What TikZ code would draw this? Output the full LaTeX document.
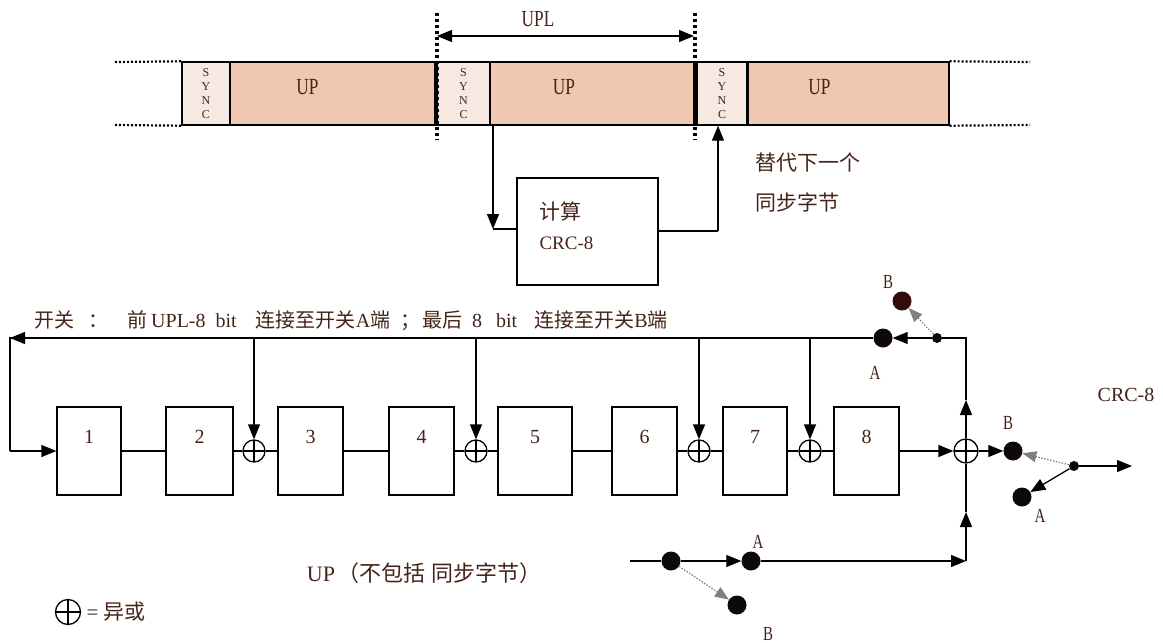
\documentclass[tikz,border=0pt]{standalone}
\usepackage{fontspec}
\setmainfont{Liberation Serif}
\newfontfamily\narrow[FakeStretch=0.75]{Liberation Serif}
\newfontfamily\cjk{Noto Sans CJK SC}
\usetikzlibrary{arrows.meta}
\definecolor{upfill}{RGB}{240,200,176}
\definecolor{syncfill}{RGB}{246,233,225}
\definecolor{txt}{RGB}{70,35,25}
\definecolor{dotc}{RGB}{15,8,8}
\definecolor{dotr}{RGB}{50,12,12}
\tikzset{
  line/.style={draw=black, line width=1.3pt},
  upbox/.style={draw, line width=1.4pt, fill=upfill, minimum width=#1, minimum height=63pt, inner sep=0pt},
  syncbox/.style={draw, line width=1.4pt, fill=syncfill, minimum width=#1, minimum height=63pt, inner sep=0pt, font=\fontsize{12}{14}\selectfont, align=center, text=txt},
  uptext/.style={font=\narrow\fontsize{23}{23}\selectfont, text=txt},
  reg/.style={draw, line width=1.3pt, minimum width=#1, minimum height=88pt, inner sep=0pt},
  xor/.style={circle, draw, line width=1.3pt, minimum size=#1, inner sep=0pt,
    path picture={\draw[line width=1.3pt] (path picture bounding box.north) -- (path picture bounding box.south) (path picture bounding box.west) -- (path picture bounding box.east);}},
  bigdot/.style={circle, fill=dotc, minimum size=19pt, inner sep=0pt},
  smalldot/.style={circle, fill=dotc, minimum size=10pt, inner sep=0pt},
  lbl/.style={font=\fontsize{19}{19}\selectfont, text=txt},
  ablbl/.style={font=\narrow\fontsize{20}{20}\selectfont, text=txt},
  cjklbl/.style={font=\cjk\fontsize{20}{20}\selectfont, text=txt},
  cjkbig/.style={font=\cjk\fontsize{21}{21}\selectfont, text=txt},
  arr/.style={line width=1.3pt, -{Triangle[length=15pt,width=12pt]}},
  darr/.style={draw=gray, line width=1.2pt, dash pattern=on 1.5pt off 1.5pt, -{Triangle[length=14pt,width=11pt]}},
  vdot/.style={line width=3.5pt, dash pattern=on 3pt off 3pt},
  hdot/.style={line width=2.2pt, dash pattern=on 2pt off 2pt},
}
\begin{document}
\begin{tikzpicture}[x=1pt,y=-1pt]
\useasboundingbox (0,0) rectangle (1163,643);

% ---- top frame strip ----
\node[syncbox=48pt] (s1) at (206,93.5) {S\\Y\\N\\C};
\node[upbox=205pt] (u1) at (332.5,93.5) {};
\node[syncbox=53pt] (s2) at (463.5,93.5) {S\\Y\\N\\C};
\node[upbox=204pt] (u2) at (592,93.5) {};
\node[syncbox=50pt] (s3) at (722,93.5) {S\\Y\\N\\C};
\node[upbox=201pt] (u3) at (848.5,93.5) {};
\node[uptext] (t1) at ([xshift=-25pt,yshift=6pt]u1.center) {UP};
\node[uptext] (t2) at ([xshift=-28pt,yshift=6pt]u2.center) {UP};
\node[uptext] (t3) at ([xshift=-29pt,yshift=6pt]u3.center) {UP};

\draw[line width=3.5pt] (s2.north west) -- (s2.south west);
\draw[line width=3.5pt] (s3.north west) -- (s3.south west);
\coordinate (va1) at (437,13); \coordinate (vb1) at (437,140);
\coordinate (va2) at (695,13); \coordinate (vb2) at (695,140);
\draw[vdot] (va1) -- (vb1);
\draw[vdot] (va2) -- (vb2);

\coordinate (dl1) at (115,62); \coordinate (dl2) at (115,125);
\coordinate (dr1) at (1030,62); \coordinate (dr2) at (1030,125);
\draw[hdot] (dl1) -- (s1.north west);
\draw[hdot] (dl2) -- (s1.south west);
\draw[hdot] (u3.north east) -- (dr1);
\draw[hdot] (u3.south east) -- (dr2);

% UPL
\coordinate (ua) at (437,36); \coordinate (ub) at (694,36);
\draw[line width=1.3pt, {Triangle[length=15pt,width=12pt]}-{Triangle[length=15pt,width=12pt]}] (ua) -- (ub);
\node[ablbl, font=\narrow\fontsize{23}{23}\selectfont] (upl) at (538,19) {UPL};

% CRC box
\node[draw, line width=1.4pt, minimum width=141pt, minimum height=107pt] (crc) at (587.5,231.5) {};
\node[cjkbig, anchor=west] (c1) at (536,211) {计算};
\node[lbl, anchor=west] (c2) at (536,243) {CRC-8};
\coordinate (dtop) at (493,125); \coordinate (dn) at (493,229);
\draw[arr] (dtop) -- (dn);
\draw[line] (dn) -- (crc.west |- dn);
\coordinate (upc) at (718,231);
\draw[line] (crc.east |- upc) -- (upc);
\draw[arr] (upc) -- (upc |- s3.south);
\node[cjkbig, anchor=west] (rep1) at (752,163) {替代下一个};
\node[cjkbig, anchor=west] (rep2) at (752,202) {同步字节};

% ---- CRC register ----
\node[cjklbl, anchor=west, inner sep=0pt] (cap) at (34,321) {开关\hspace{14pt}：\hspace{19pt}前\hspace{4pt}{\rmfamily UPL-8\hspace{10pt}bit}\hspace{19pt}连接至开关{\rmfamily A}端\hspace{10pt}；\hspace{2pt}最后\hspace{10pt}{\rmfamily 8\hspace{14pt}bit}\hspace{17pt}连接至开关{\rmfamily B}端};

\node[reg=64pt] (r1) at (89,451) {};
\node[reg=67pt] (r2) at (199.5,451) {};
\node[xor=22pt] (x1) at (254,451) {};
\node[reg=65pt] (r3) at (310.5,451) {};
\node[reg=65pt] (r4) at (421.5,451) {};
\node[xor=22pt] (x2) at (476,451) {};
\node[reg=74pt] (r5) at (535,451) {};
\node[reg=65pt] (r6) at (644.5,451) {};
\node[xor=22pt] (x3) at (699,451) {};
\node[reg=64pt] (r7) at (755,451) {};
\node[xor=22pt] (x4) at (810,451) {};
\node[reg=65pt] (r8) at (866.5,451) {};
\node[xor=24pt] (x5) at (966,451) {};

\foreach \i in {1,...,8} {\node[lbl, font=\fontsize{20}{20}\selectfont] (n\i) at ([yshift=14pt]r\i.center) {\i};}

\draw[line] (r1.east) -- (r2.west);
\draw[line] (r2.east) -- (x1.west);
\draw[line] (x1.east) -- (r3.west);
\draw[line] (r3.east) -- (r4.west);
\draw[line] (r4.east) -- (x2.west);
\draw[line] (x2.east) -- (r5.west);
\draw[line] (r5.east) -- (r6.west);
\draw[line] (r6.east) -- (x3.west);
\draw[line] (x3.east) -- (r7.west);
\draw[line] (r7.east) -- (x4.west);
\draw[line] (x4.east) -- (r8.west);
\draw[arr] (r8.east) -- (x5.west);

% top switch and feedback
\node[bigdot] (tA) at (883,338) {};
\node[bigdot, fill=dotr] (tB) at (902,301) {};
\node[smalldot] (tP) at (937,338) {};
\node[ablbl] (tAl) at (875,373) {A};
\node[ablbl] (tBl) at (888,282) {B};
\coordinate (tUp) at (966,400);
\coordinate (tR) at (966,338);
\draw[arr] (x5.north) -- (tUp);
\draw[line] (tUp) -- (tR) -- (tP.east);
\draw[arr] (tP) -- (tA);
\draw[darr] (tP) -- (tB);

\coordinate (fbL) at (10,338);
\coordinate (fbB) at (10,451);
\draw[line] (tA.west) -- (fbL) -- (fbB);
\draw[arr] (tA.west) -- (fbL);
\draw[arr] (fbB) -- (r1.west);

\draw[arr] (x1.north |- tA) -- (x1.north);
\draw[arr] (x2.north |- tA) -- (x2.north);
\draw[arr] (x3.north |- tA) -- (x3.north);
\draw[arr] (x4.north |- tA) -- (x4.north);

% output switch
\node[bigdot] (oB) at (1013,451) {};
\node[smalldot] (oP) at (1074,466) {};
\node[bigdot] (oA) at (1022,497) {};
\coordinate (oOut) at (1132,466);
\draw[arr] (x5.east) -- (oB);
\draw[darr] (oP) -- (oB);
\draw[arr] (oP) -- (oA);
\draw[arr] (oP) -- (oOut);
\node[ablbl] (oBl) at (1008,423) {B};
\node[ablbl] (oAl) at (1040,516) {A};
\node[lbl, font=\fontsize{20}{20}\selectfont] (crcout) at (1126,395) {CRC-8};

% input switch
\coordinate (iS) at (630,561);
\node[bigdot] (iP) at (671,561) {};
\node[bigdot] (iA) at (751,561) {};
\node[bigdot] (iB) at (737,605) {};
\draw[line] (iS) -- (iP);
\draw[arr] (iP) -- (iA);
\draw[darr] (iP) -- (iB);
\coordinate (iC) at (966,561);
\coordinate (iUp) at (966,512);
\draw[arr] (iA) -- (iC);
\draw[arr] (iC) -- (iUp);
\draw[line] (iUp) -- (x5.south);
\node[ablbl] (iAl) at (758,542) {A};
\node[ablbl] (iBl) at (768,634) {B};
\node[cjkbig, font=\cjk\fontsize{22}{22}\selectfont] (iT) at (424,573) {{\rmfamily UP}\hspace{2pt}（不包括\hspace{6pt}同步字节）};

% legend
\node[xor=25pt] (lx) at (68,612) {};
\node[cjkbig, anchor=west] (lt) at (83,612) {{\rmfamily =} 异或};
\end{tikzpicture}
\end{document}
